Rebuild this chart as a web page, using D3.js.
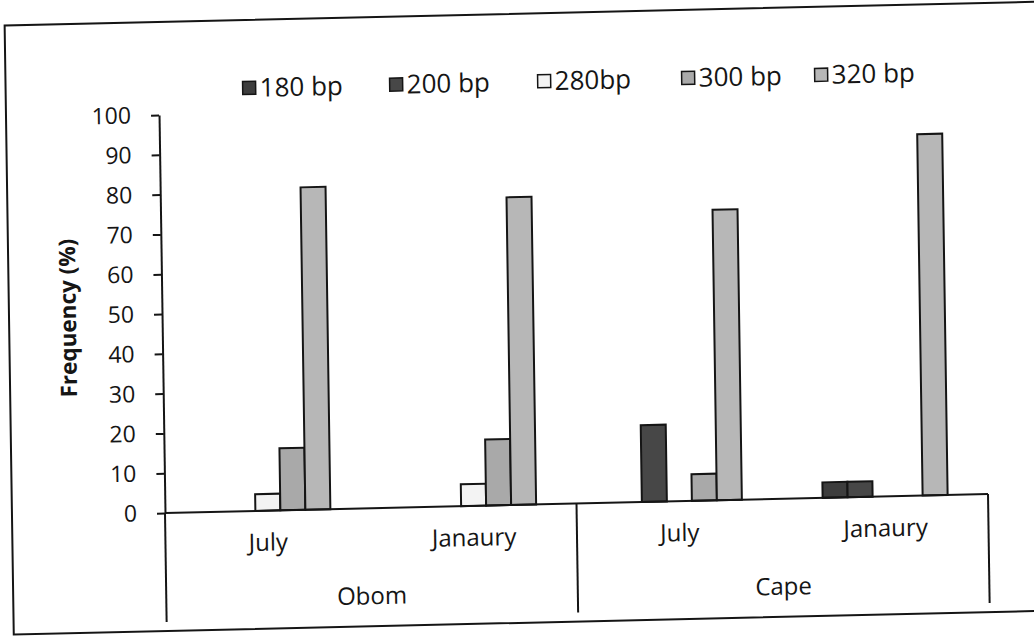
<!DOCTYPE html>
<html>
<head>
<meta charset="utf-8">
<script src="https://cdn.jsdelivr.net/npm/d3@7"></script>
<style>
  html, body { margin: 0; padding: 0; background: #fff; }
  svg { display: block; font-family: "Open Sans", Lato, sans-serif; }
</style>
</head>
<body>
<svg id="chart" width="1034" height="636"></svg>
<script>
// Fragment-size frequencies by site and sampling month
const months = ["July", "Janaury", "July", "Janaury"];
const sites = ["Obom", "Cape"];
const seriesNames = ["180 bp", "200 bp", "280bp", "300 bp", "320 bp"];
const bp180 = [0, 0, 0, 3.9];
const bp200 = [0, 0, 19.3, 3.9];
const bp280 = [4.2, 5.5, 0, 0];
const bp300 = [15.6, 16.6, 6.7, 0];
const bp320 = [81, 77.3, 73, 90.8];
const yTicks = [0, 10, 20, 30, 40, 50, 60, 70, 80, 90, 100];
const yTitle = "Frequency (%)";

const seriesValues = [bp180, bp200, bp280, bp300, bp320];
const fills = ["#3d3d3d", "#474747", "#f3f3f3", "#a9a9a9", "#b7b7b7"];

// plot frame
const plotLeft = 165, plotRight = 988, plotBottom = 513, plotTop = 115;
const labelDepth = 109;
const ink = "#151515";

const svg = d3.select("#chart");
svg.append("rect").attr("width", 1034).attr("height", 636).attr("fill", "#fff");

// the whole sheet sits slightly skewed on the page
const skewB = -0.023, skewC = 0.015;
const root = svg.append("g")
  .attr("transform", `matrix(1,${skewB},${skewC},1,${-skewC * plotBottom},${-skewB * plotLeft})`);

root.append("rect")
  .attr("x", 12).attr("y", 22).attr("width", 1040).attr("height", 609)
  .attr("fill", "none").attr("stroke", ink).attr("stroke-width", 2);

const x0 = d3.scaleBand().domain(d3.range(months.length)).range([plotLeft, plotRight]);
const x1 = d3.scaleBand().domain(seriesNames).range([0, x0.bandwidth()])
  .paddingInner(0).paddingOuter(1.615);
const y = d3.scaleLinear().domain([0, 100]).range([plotBottom, plotTop]);

// bars
seriesNames.forEach((name, si) => {
  root.append("g").selectAll("rect")
    .data(seriesValues[si].map((v, i) => ({ v, i })).filter(d => d.v > 0))
    .join("rect")
    .attr("x", d => x0(d.i) + x1(name))
    .attr("y", d => y(d.v))
    .attr("width", x1.bandwidth())
    .attr("height", d => y(0) - y(d.v))
    .attr("fill", fills[si])
    .attr("stroke", ink)
    .attr("stroke-width", 2);
});

// value axis
const yAxis = root.append("g")
  .attr("transform", `translate(${plotLeft},0)`)
  .call(d3.axisLeft(y).tickValues(yTicks).tickSize(8).tickSizeOuter(0).tickPadding(20));
yAxis.selectAll("path, line").attr("stroke", ink).attr("stroke-width", 2);
yAxis.selectAll("text")
  .attr("fill", ink)
  .style("font-size", "23px")
  .style("font-family", "'Open Sans', sans-serif");

root.append("text")
  .attr("transform", `translate(71,316) rotate(-90)`)
  .attr("text-anchor", "middle")
  .attr("dy", "0.35em")
  .style("font-size", "22.5px")
  .style("font-weight", "bold")
  .attr("fill", ink)
  .text(yTitle);

// category axis with two label levels
root.append("line")
  .attr("x1", plotLeft).attr("x2", plotRight).attr("y1", plotBottom).attr("y2", plotBottom)
  .attr("stroke", ink).attr("stroke-width", 2);

const perSite = months.length / sites.length;
const dividers = d3.range(sites.length + 1).map(k => k === sites.length ? plotRight : x0(k * perSite));
root.append("g").selectAll("line")
  .data(dividers)
  .join("line")
  .attr("x1", d => d).attr("x2", d => d)
  .attr("y1", plotBottom).attr("y2", plotBottom + labelDepth)
  .attr("stroke", ink).attr("stroke-width", 2);

root.append("g").selectAll("text")
  .data(months.map((m, i) => ({ m, i })))
  .join("text")
  .attr("x", d => x0(d.i) + x0.bandwidth() / 2)
  .attr("y", plotBottom + 40)
  .attr("text-anchor", "middle")
  .style("font-size", "24px")
  .attr("fill", ink)
  .text(d => d.m);

root.append("g").selectAll("text")
  .data(sites.map((s, k) => ({ s, k })))
  .join("text")
  .attr("x", d => (dividers[d.k] + dividers[d.k + 1]) / 2)
  .attr("y", plotBottom + 96)
  .attr("text-anchor", "middle")
  .style("font-size", "24px")
  .attr("fill", ink)
  .text(d => d.s);

// legend
const legendX = [249, 396, 544, 688, 821];
const legend = root.append("g").selectAll("g")
  .data(seriesNames.map((n, i) => ({ n, i })))
  .join("g")
  .attr("transform", d => `translate(${legendX[d.i]},90)`);
legend.append("rect")
  .attr("x", 0).attr("y", -6.5).attr("width", 13).attr("height", 13)
  .attr("fill", d => fills[d.i])
  .attr("stroke", ink).attr("stroke-width", 1.5);
legend.append("text")
  .attr("x", 17).attr("y", 0).attr("dy", "0.35em")
  .style("font-size", "26px")
  .attr("fill", ink)
  .text(d => d.n);
</script>
</body>
</html>
